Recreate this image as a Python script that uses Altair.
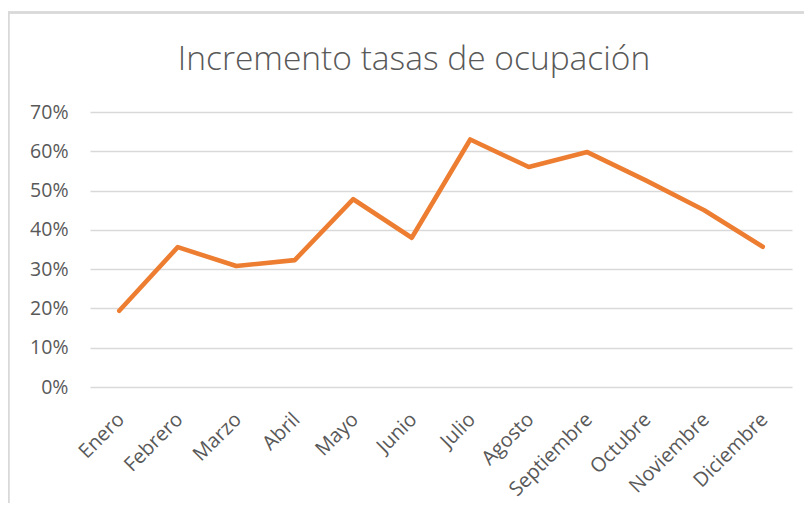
import altair as alt
import pandas as pd

months = ["Enero", "Febrero", "Marzo", "Abril", "Mayo", "Junio", "Julio",
          "Agosto", "Septiembre", "Octubre", "Noviembre", "Diciembre"]
values = [0.194, 0.356, 0.308, 0.323, 0.478, 0.380, 0.630,
          0.560, 0.598, 0.526, 0.450, 0.357]
title_text = ["Incremento tasas de ocupación"]

df = pd.DataFrame({"mes": months, "valor": values})
df_title = pd.DataFrame({"t": title_text})

FONT = "Open Sans"
GRAY = "#595959"

base = alt.Chart(df)

line = base.mark_line(color="#ED7D31", strokeWidth=4.6, strokeCap="round", strokeJoin="round").encode(
    x=alt.X("mes:N", sort=months, title=None,
            scale=alt.Scale(type="band", paddingInner=0, paddingOuter=0),
            axis=alt.Axis(labelAngle=-45, labelAlign="right", labelBaseline="top",
                          labelPadding=22, labelOffset=-5, labelFontSize=20,
                          labelColor=GRAY, labelFont=FONT,
                          ticks=False, domain=False, grid=False, labelOverlap=False,
                          bandPosition=0.5)),
    y=alt.Y("valor:Q", title=None,
            scale=alt.Scale(domain=[0, 0.7], nice=False),
            axis=alt.Axis(format=".0%", values=[0, 0.1, 0.2, 0.3, 0.4, 0.5, 0.6, 0.7],
                          labelFontSize=19.5, labelColor=GRAY, labelFont=FONT,
                          labelPadding=22, ticks=False, domain=False,
                          grid=True, gridColor="#D9D9D9", gridWidth=1.3)),
)

title = alt.Chart(df_title).mark_text(
    font=FONT, fontSize=33.5, fontWeight=300, color=GRAY, align="center", baseline="alphabetic"
).encode(text="t:N", x=alt.value(324), y=alt.value(-42))

top_border = base.mark_rule(color="#D9D9D9", strokeWidth=1.3).encode(
    x=alt.value(-81.5), x2=alt.value(720), y=alt.value(-99.5))
left_border = base.mark_rule(color="#D9D9D9", strokeWidth=1.3).encode(
    x=alt.value(-81.5), y=alt.value(-99.5), y2=alt.value(400))

chart = alt.layer(top_border, left_border, line, title).properties(
    width=702, height=275,
    background="white",
    autosize=alt.AutoSizeParams(type="none"),
    padding={"left": 82, "top": 104, "right": 12, "bottom": 116},
).configure_view(strokeWidth=0, stroke="transparent")

chart.save("out.html", embed_options={"renderer": "svg", "actions": False})
